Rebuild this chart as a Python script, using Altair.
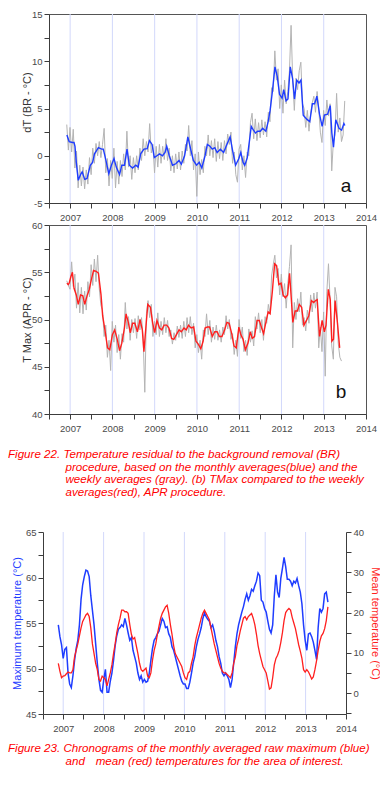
import altair as alt
import pandas as pd
import numpy as np

FONT = "Liberation Sans"
AX = "#3c3c3c"
LAB = "#4a4a4a"
GRIDC = "#d2d8fb"
GRAY = "#b4b4b4"
BLUE = "#1f3dff"
RED = "#ff1f1f"
CAPC = "#ff0000"

X_DOMAIN = [2006.5, 2014]
GRID_YEARS = [2007, 2008, 2009, 2010, 2011, 2012, 2013]

# ---------------- panel a : dT (BR) ----------------
BLUE_A_T = [2006.923, 2006.977, 2007.054, 2007.092, 2007.115, 2007.146, 2007.192, 2007.246, 2007.285, 2007.346,
            2007.400, 2007.477, 2007.531, 2007.577, 2007.669, 2007.746, 2007.785, 2007.838, 2007.915, 2007.977,
            2008.038, 2008.092, 2008.169, 2008.223, 2008.285, 2008.346, 2008.400, 2008.477, 2008.554, 2008.608,
            2008.669, 2008.746, 2008.823, 2008.877, 2008.938, 2008.992, 2009.054, 2009.115, 2009.185, 2009.246,
            2009.285, 2009.346, 2009.423, 2009.500, 2009.577, 2009.631, 2009.708, 2009.785, 2009.862, 2009.915,
            2009.992, 2010.054, 2010.115, 2010.192, 2010.246, 2010.308, 2010.362, 2010.423, 2010.477, 2010.554,
            2010.631, 2010.708, 2010.785, 2010.846, 2010.915, 2010.992, 2011.038, 2011.092, 2011.131, 2011.192,
            2011.246, 2011.285, 2011.338, 2011.385, 2011.438, 2011.500, 2011.554, 2011.631, 2011.685, 2011.731,
            2011.785, 2011.846, 2011.900, 2011.954, 2012.015, 2012.054, 2012.108, 2012.154, 2012.208, 2012.262,
            2012.308, 2012.362, 2012.415, 2012.462, 2012.515, 2012.592, 2012.669, 2012.731, 2012.785, 2012.838,
            2012.900, 2012.962, 2013.015, 2013.092, 2013.154, 2013.192, 2013.231, 2013.285, 2013.362, 2013.423,
            2013.477, 2013.500]
BLUE_A_V = [2.2, 1.5, 1.4, 1.4, 1.0, -0.7, -2.6, -2.0, -1.7, -2.5,
            -2.4, -1.0, -0.7, 0.2, 0.85, 0.7, 0.7, -0.3, -1.9, -1.0,
            -0.3, -1.2, -2.0, -1.0, -1.0, 0.7, -1.0, -1.3, -1.0, -1.2,
            0.2, 0.7, 0.75, 1.6, 1.2, -0.2, 0.0, 0.2, 0.0, 0.35,
            1.0, 0.0, -1.0, -0.85, -0.5, -0.9, 0.0, 2.0, 0.5, -0.5,
            -1.0, -0.7, -1.3, 0.0, 1.2, 1.0, 0.7, 0.85, 0.35, 0.7,
            0.35, 1.2, 2.0, 0.5, -1.0, -0.3, 0.35, -0.7, -1.0, -0.2,
            1.7, 3.1, 2.7, 2.4, 2.6, 2.6, 2.9, 2.6, 3.6, 4.8,
            6.8, 9.4, 8.4, 6.5, 6.1, 7.0, 5.8, 6.0, 9.4, 8.2,
            6.0, 8.0, 7.7, 8.0, 4.3, 3.9, 3.6, 5.5, 5.5, 6.3,
            4.4, 3.1, 4.3, 4.4, 5.3, 2.4, 0.9, 3.8, 2.9, 2.7,
            3.4, 3.2]

WEEKLY_START = 2006.92
WEEKLY_STEP = 1 / 26
GRAY_A = [3.3, 0.6, 3.0, 0.4, 2.8, -1.3, 0.5, -3.4, -1.0, -3.2, -1.2, -3.5, -1.5, -3.0, -0.2, -2.0, 0.8, -0.8, 1.3, 0.0, 1.5, -0.2, 1.2, 2.9, -1.8, -0.3,
          -3.2, -0.5, -2.4, 0.8, -3.4, -0.6, -3.0, -0.5, -2.2, 0.2, -1.5, 2.6, -1.2, 0.0, -2.5, -0.2, -1.8, 0.0, -1.5, 0.8, -0.5, 1.8, 0.0, 1.5, 0.4, 3.4,
          0.3, 1.2, -1.8, 1.0, -1.2, 1.2, -0.8, 1.0, -0.4, 1.8, -0.5, 0.8, -1.6, 0.0, -1.8, 0.2, -1.4, 0.4, -1.5, 0.5, -0.8, 1.2, 0.5, 3.2, 0.0, 1.6,
          -1.5, 0.2, -4.3, 0.4, -2.0, -0.4, -1.8, 1.0, 0.0, 2.2, 0.0, 1.6, -0.2, 1.8, -0.6, 1.5, -0.3, 1.4, -0.5, 1.6, 0.2, 2.3, 1.2, 2.5, -0.8, 0.4,
          -2.0, -2.8, 0.7, 1.2, -1.5, 0.0, -2.3, 0.4, 0.0, 3.5, 4.5, 1.8, 3.9, 1.6, 3.5, 1.9, 3.8, 2.2, 3.6, 2.0, 4.6, 3.6, 7.2, 6.8, 11.1, 8.0,
          9.2, 5.0, 7.5, 4.5, 8.0, 5.5, 6.8, 9.0, 13.8, 8.0, 4.8, 8.2, 7.0, 9.0, 9.9, 5.5, 5.0, 3.0, 4.8, 2.6, 4.4, 5.6, 6.3, 4.6, 6.8, 5.0,
          2.5, 1.4, 4.8, 3.2, 5.9, 4.2, 5.5, -1.6, 1.5, 2.2, 6.6, 2.5, 4.0, 1.5, 2.2, 5.8]

# ---------------- panel b : T Max (APR) ----------------
RED_B_T = [2006.923, 2006.954, 2006.977, 2007.015, 2007.054, 2007.092, 2007.146, 2007.192, 2007.246, 2007.300,
           2007.346, 2007.400, 2007.454, 2007.500, 2007.554, 2007.615, 2007.669, 2007.731, 2007.769, 2007.823,
           2007.885, 2007.938, 2008.000, 2008.054, 2008.115, 2008.169, 2008.223, 2008.285, 2008.323, 2008.377,
           2008.423, 2008.477, 2008.531, 2008.592, 2008.654, 2008.708, 2008.746, 2008.800, 2008.838, 2008.900,
           2008.954, 2009.000, 2009.054, 2009.115, 2009.169, 2009.223, 2009.285, 2009.338, 2009.400, 2009.454,
           2009.515, 2009.577, 2009.631, 2009.692, 2009.746, 2009.800, 2009.862, 2009.923, 2009.977, 2010.031,
           2010.092, 2010.146, 2010.192, 2010.246, 2010.300, 2010.362, 2010.423, 2010.477, 2010.531, 2010.592,
           2010.654, 2010.708, 2010.762, 2010.823, 2010.877, 2010.931, 2010.992, 2011.038, 2011.092, 2011.146,
           2011.208, 2011.262, 2011.308, 2011.362, 2011.423, 2011.477, 2011.531, 2011.577, 2011.631, 2011.685,
           2011.731, 2011.785, 2011.838, 2011.885, 2011.938, 2011.992, 2012.038, 2012.092, 2012.146, 2012.192,
           2012.231, 2012.269, 2012.323, 2012.377, 2012.423, 2012.477, 2012.531, 2012.592, 2012.646, 2012.708,
           2012.762, 2012.808, 2012.846, 2012.900, 2012.962, 2013.015, 2013.054, 2013.108, 2013.154, 2013.192,
           2013.231, 2013.269, 2013.323, 2013.377]
RED_B_V = [53.85, 53.7, 53.85, 54.5, 55.0, 53.3, 52.6, 51.6, 52.6, 52.5,
           51.6, 52.5, 53.2, 54.2, 55.2, 55.1, 54.9, 52.6, 50.4, 48.9,
           47.0, 46.8, 48.4, 48.9, 47.9, 46.7, 47.5, 49.1, 50.6, 49.7,
           48.6, 49.6, 49.6, 48.7, 50.0, 48.9, 46.6, 49.6, 51.6, 51.3,
           49.6, 48.6, 49.9, 49.1, 48.9, 49.4, 49.4, 49.1, 48.0, 47.9,
           48.4, 48.9, 48.7, 49.1, 48.9, 49.4, 49.1, 49.2, 47.7, 47.4,
           46.9, 47.7, 49.1, 49.2, 49.2, 48.2, 48.7, 48.7, 48.2, 48.2,
           48.9, 49.7, 49.6, 48.5, 47.2, 47.0, 49.2, 48.4, 47.9, 46.8,
           47.5, 48.7, 48.0, 48.2, 49.9, 49.9, 49.1, 48.5, 49.7, 50.8,
           50.6, 53.0, 55.9, 55.7, 53.7, 53.85, 52.6, 52.3, 52.6, 54.9,
           52.3, 49.7, 50.9, 50.9, 51.6, 51.3, 49.4, 49.9, 50.4, 52.0,
           51.8, 52.0, 52.1, 48.2, 49.9, 48.7, 49.4, 53.2, 52.1, 47.7,
           47.9, 52.0, 49.7, 47.0]
GRAY_B = [54.1, 53.6, 53.2, 56.1, 53.5, 54.8, 51.2, 53.9, 50.7, 53.4, 50.6, 53.0, 51.0, 54.0, 52.4, 55.8, 53.6, 56.4, 54.0, 56.8, 53.3, 51.5, 51.0, 48.2, 49.4, 46.0,
          47.8, 44.6, 49.8, 47.6, 49.4, 46.5, 48.4, 45.8, 48.5, 47.6, 51.8, 49.0, 50.3, 47.8, 50.0, 48.6, 50.1, 48.0, 50.4, 48.9, 50.2, 48.0, 42.3, 50.6, 52.0, 50.2,
          51.6, 48.2, 49.8, 48.4, 50.7, 48.2, 49.8, 48.4, 50.2, 48.6, 49.9, 48.2, 48.9, 47.4, 48.6, 47.8, 49.3, 48.1, 49.4, 48.0, 49.8, 48.2, 50.2, 48.6, 50.3, 48.4,
          49.6, 47.0, 48.4, 46.5, 47.8, 45.8, 48.9, 48.2, 50.6, 48.4, 49.9, 47.6, 49.2, 47.9, 49.4, 47.8, 48.9, 47.6, 49.2, 48.4, 50.4, 49.0, 50.0, 47.9, 48.5, 46.3,
          47.8, 46.1, 50.0, 48.0, 49.2, 46.6, 47.8, 46.2, 49.0, 47.6, 48.8, 47.2, 50.3, 49.0, 50.7, 48.6, 50.0, 47.8, 50.3, 49.6, 51.6, 50.6, 54.6, 55.8, 56.8, 54.4,
          55.4, 52.6, 54.8, 52.4, 53.8, 51.2, 53.8, 55.6, 57.9, 47.0, 51.8, 50.0, 52.2, 50.8, 52.9, 49.4, 50.2, 48.8, 51.0, 49.6, 52.6, 50.8, 52.8, 51.2, 52.9, 47.0,
          49.2, 46.6, 50.8, 44.0, 53.0, 55.9, 52.0, 47.2, 45.8, 53.4, 52.4, 47.5, 46.0, 45.6]

# ---------------- panel c : raw max (blue) & mean (red) ----------------
MONTHLY_START = 2006.879
MONTHLY_STEP = 0.0402
MAX_C = [54.8, 53.5, 52.6, 51.1, 52.1, 52.3, 49.5, 48.3, 47.9, 49.2, 50.9, 52.2, 53.1, 54.8, 57.6, 59.2, 60.1, 60.8, 60.7, 60.1, 58.0, 56.4, 54.8, 52.7, 50.6, 48.8,
         47.6, 47.4, 48.8, 49.9, 47.4, 47.4, 48.6, 49.5, 50.9, 52.5, 53.6, 54.3, 54.5, 54.8, 54.6, 55.5, 54.8, 53.9, 53.1, 53.4, 52.0, 51.3, 50.6, 49.5, 48.8, 49.2,
         48.5, 48.8, 48.5, 48.6, 49.5, 50.9, 52.2, 53.1, 53.4, 53.8, 54.1, 54.8, 55.5, 55.2, 54.5, 54.6, 53.8, 53.4, 52.4, 52.0, 51.3, 50.6, 49.9, 49.2, 48.6, 48.3,
         48.3, 47.8, 47.8, 48.5, 49.5, 50.6, 51.3, 52.4, 53.2, 53.8, 54.5, 55.5, 56.1, 55.7, 55.4, 55.2, 54.5, 54.8, 54.1, 53.1, 52.4, 51.3, 50.6, 49.5, 49.2, 49.5,
         49.2, 48.8, 47.9, 48.8, 50.6, 52.4, 53.8, 54.8, 55.5, 56.2, 56.8, 57.6, 58.2, 57.5, 58.0, 58.7, 58.5, 59.1, 59.6, 60.5, 60.2, 57.5, 57.3, 56.6, 56.2, 55.2,
         54.3, 53.9, 54.8, 58.0, 60.3, 58.4, 57.8, 59.9, 61.0, 62.2, 61.2, 59.8, 59.8, 59.6, 59.1, 59.6, 59.4, 59.9, 59.1, 58.4, 57.1, 54.8, 53.1, 52.0, 53.8, 53.9,
         53.5, 52.9, 52.0, 51.0, 54.5, 56.6, 56.2, 56.6, 58.2, 58.4, 57.3]
MEAN_C = [7.4, 5.4, 3.8, 4.2, 4.3, 4.8, 5.2, 5.0, 5.0, 5.8, 9.0, 10.6, 12.2, 14.2, 16.2, 17.8, 18.6, 19.4, 19.8, 19.0, 16.2, 12.2, 9.8, 7.4, 5.8, 3.4,
          3.0, 4.2, 3.8, 3.4, 1.8, 3.4, 5.0, 7.0, 9.8, 12.2, 15.0, 17.0, 18.6, 20.6, 20.6, 20.2, 20.2, 19.8, 17.0, 14.6, 13.4, 13.8, 11.8, 9.8, 7.4, 5.8,
          5.4, 5.8, 6.2, 4.2, 3.8, 5.0, 8.2, 10.6, 12.2, 14.6, 16.6, 18.6, 19.8, 20.6, 21.4, 21.8, 19.8, 17.0, 14.6, 11.8, 9.8, 9.0, 8.2, 7.4, 6.6, 5.0,
          3.8, 3.4, 5.0, 5.4, 7.4, 9.0, 11.8, 13.8, 15.4, 17.0, 18.6, 19.8, 20.6, 19.8, 19.0, 18.2, 16.2, 14.2, 12.2, 10.6, 9.0, 7.4, 6.2, 5.4, 5.0, 5.0,
          4.6, 4.2, 3.8, 5.0, 7.4, 9.0, 11.8, 13.4, 15.4, 17.0, 18.6, 19.0, 18.2, 19.0, 19.4, 19.8, 18.6, 17.0, 14.6, 11.8, 9.8, 8.2, 6.6, 5.8, 5.0, 3.0,
          1.0, 1.3, 3.8, 7.0, 8.6, 9.4, 10.6, 12.6, 15.0, 18.0, 20.0, 20.6, 21.0, 20.6, 18.8, 17.4, 16.0, 14.0, 12.0, 10.4, 8.6, 5.8, 5.2, 5.8, 5.3, 4.4,
          3.5, 4.0, 5.8, 8.0, 10.6, 12.8, 14.2, 14.8, 16.0, 18.0, 21.4]

CAPTION_22 = ["Figure 22. Temperature residual to the background removal (BR)",
              "procedure, based on the monthly averages(blue) and the",
              "weekly averages (gray).  (b) TMax compared to the weekly",
              "averages(red), APR procedure."]
CAPTION_23 = ["Figure 23. Chronograms of the monthly averaged raw maximum (blue)",
              "and", "mean (red) temperatures for the area of interest."]

# ---------------- tables ----------------
df_grid = pd.DataFrame({"yr": GRID_YEARS})
df_blue_a = pd.DataFrame({"t": BLUE_A_T, "v": BLUE_A_V})
df_gray_a = pd.DataFrame({"t": WEEKLY_START + WEEKLY_STEP * np.arange(len(GRAY_A)), "v": GRAY_A})
df_red_b = pd.DataFrame({"t": RED_B_T, "v": RED_B_V})
df_gray_b = pd.DataFrame({"t": WEEKLY_START + WEEKLY_STEP * np.arange(len(GRAY_B)), "v": GRAY_B})
t_c = MONTHLY_START + MONTHLY_STEP * np.arange(len(MAX_C))
df_max_c = pd.DataFrame({"t": t_c, "tmax": MAX_C})
df_mean_c = pd.DataFrame({"t": t_c, "tmean": MEAN_C})
dummy = alt.Data(values=[{"k": 0}])

W_AB, H_AB = 317, 189
W_C, H_C = 297, 182
C_SHIFT = 6

X_TICKS = [X_DOMAIN[0] + 0.5 * i for i in range(16)]


def x_enc(field, rng=None):
    if rng is None:
        sc = alt.Scale(domain=X_DOMAIN, nice=False, zero=False)
    else:
        sc = alt.Scale(domain=X_DOMAIN, nice=False, zero=False, range=rng)
    return alt.X(f"{field}:Q", scale=sc,
                 axis=alt.Axis(values=X_TICKS, title=None, grid=False,
                               labelExpr="datum.value % 1 == 0 ? toString(datum.value) : ''",
                               tickSize=5, labelPadding=4, labelFontSize=9.5, labelOverlap=False,
                               labelFlush=False, domainColor=AX, tickColor=AX, labelColor=LAB))


def y_enc(field, domain, step, major, title, title_x, orient="left", offset=0, title_color="#333", title_y=None):
    vals = list(np.round(np.arange(domain[0] if domain[0] % step == 0 else np.ceil(domain[0] / step) * step,
                                   domain[1] + 1e-9, step), 3))
    kw = dict(values=[float(v) for v in vals], title=title, grid=False, orient=orient, offset=offset,
              labelExpr=f"datum.value % {major} == 0 ? toString(datum.value) : ''",
              tickSize=5, labelPadding=2, labelFontSize=9.5, labelOverlap=False, labelFlush=False,
              domainColor=AX, tickColor=AX, labelColor=LAB, titleFontSize=11,
              titleFontWeight="normal", titleColor=title_color, titleX=title_x,
              titleBaseline="middle")
    if title_y is not None:
        kw["titleY"] = title_y
    return alt.Y(f"{field}:Q", scale=alt.Scale(domain=domain, nice=False, zero=False), axis=alt.Axis(**kw))


grid_rule = lambda rng=None: alt.Chart(df_grid).mark_rule(color=GRIDC, strokeWidth=1).encode(x=x_enc("yr", rng))

# panel a
ya = lambda: y_enc("v", [-5, 15], 2.5, 5, "dT  (BR - °C)", -22, title_y=88)
panel_a = alt.layer(
    grid_rule(),
    alt.Chart(df_gray_a).mark_line(color=GRAY, strokeWidth=1).encode(x=x_enc("t"), y=ya()),
    alt.Chart(df_blue_a).mark_line(color=BLUE, strokeWidth=1.4).encode(x=x_enc("t"), y=ya()),
    alt.Chart(dummy).mark_text(text="a", font=FONT, fontSize=19, color="#111", baseline="middle").encode(
        x=alt.value(297), y=alt.value(172)),
).properties(width=W_AB, height=H_AB, view=alt.ViewBackground(stroke="#555", strokeWidth=1))

# panel b
yb = lambda: y_enc("v", [40, 60], 2.5, 5, "T Max (APR - °C)", -22)
panel_b = alt.layer(
    grid_rule(),
    alt.Chart(df_gray_b).mark_line(color=GRAY, strokeWidth=1).encode(x=x_enc("t"), y=yb()),
    alt.Chart(df_red_b).mark_line(color=RED, strokeWidth=1.4).encode(x=x_enc("t"), y=yb()),
    alt.Chart(dummy).mark_text(text="b", font=FONT, fontSize=19, color="#111", baseline="middle").encode(
        x=alt.value(292), y=alt.value(167)),
).properties(width=W_AB, height=H_AB, view=alt.ViewBackground(stroke="#555", strokeWidth=1))

# caption 22
CAP_FS = 11.6
cap_x0, cap_ind = -41, 16.5
cap22 = alt.layer(*[
    alt.Chart(dummy).mark_text(text=line, align="left", baseline="middle", font=FONT, fontSize=CAP_FS,
                               fontStyle="italic", color=CAPC).encode(
        x=alt.value(cap_x0 if i == 0 else cap_ind), y=alt.value(19 + 12.6 * i))
    for i, line in enumerate(CAPTION_22)
]).properties(width=W_AB, height=74, view=alt.ViewBackground(stroke=None))

# panel c
rng_c = [-C_SHIFT, W_C]
panel_c = alt.layer(
    grid_rule(rng_c),
    alt.Chart(df_max_c).mark_line(color=BLUE, strokeWidth=1.5).encode(
        x=x_enc("t", rng_c),
        y=y_enc("tmax", [45, 65], 2.5, 5, "Maximum temperature (°C)", -26, offset=C_SHIFT, title_color=BLUE)),
    alt.Chart(df_mean_c).mark_line(color=RED, strokeWidth=1.3).encode(
        x=x_enc("t", rng_c),
        y=y_enc("tmean", [-5.2, 40], 5, 10, "Mean temperature (°C)", 28, orient="right", title_color=RED)),
).resolve_scale(y="independent").properties(width=W_C, height=H_C, view=alt.ViewBackground(stroke=None))

# caption 23
cap23 = alt.layer(
    alt.Chart(dummy).mark_text(text=CAPTION_23[0], align="left", baseline="middle", font=FONT, fontSize=CAP_FS,
                               fontStyle="italic", color=CAPC).encode(x=alt.value(cap_x0), y=alt.value(13)),
    alt.Chart(dummy).mark_text(text=CAPTION_23[1], align="left", baseline="middle", font=FONT, fontSize=CAP_FS,
                               fontStyle="italic", color=CAPC).encode(x=alt.value(cap_ind), y=alt.value(25.6)),
    alt.Chart(dummy).mark_text(text=CAPTION_23[2], align="left", baseline="middle", font=FONT, fontSize=CAP_FS,
                               fontStyle="italic", color=CAPC).encode(x=alt.value(46.7), y=alt.value(25.6)),
).properties(width=W_AB, height=30, view=alt.ViewBackground(stroke=None))

chart = alt.vconcat(panel_a, panel_b, cap22, panel_c, cap23, spacing=22, bounds="flush").properties(
    padding=0, background="white"
).configure_axis(labelFont=FONT, titleFont=FONT).configure_view(stroke=None)

chart.save("out.html", embed_options={"renderer": "svg", "actions": False})
